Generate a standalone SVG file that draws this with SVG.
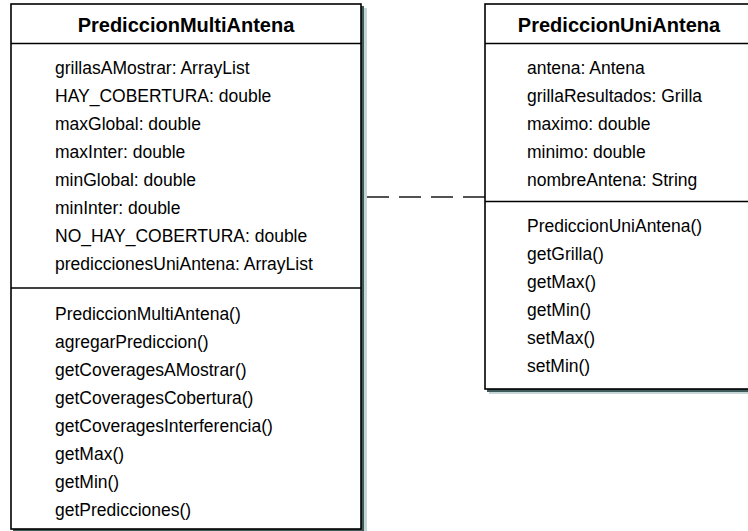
<svg xmlns="http://www.w3.org/2000/svg" width="748" height="531" viewBox="0 0 748 531">
  <style>
    .shadow-dark { fill: #3f5a5a; }
    .shadow-light { fill: #c6d6d6; }
    .box { fill: #ffffff; stroke: #000000; stroke-width: 1.6; }
    .sep { stroke: #000000; stroke-width: 1.4; }
    .title { font-family: "Liberation Sans", Arial, sans-serif; font-weight: bold; font-size: 20px; text-anchor: middle; fill: #000; }
    .member { font-family: "Liberation Sans", Arial, sans-serif; font-size: 17.5px; fill: #000; }
    .dep { fill: none; stroke: #1a1a1a; stroke-width: 1.5; stroke-dasharray: 22 10; }
  </style>

  <rect width="748" height="531" fill="#ffffff"/>

  <!-- dependency connector -->
  <g id="connectors">
    <line class="dep" x1="367" y1="197" x2="485" y2="197"/>
  </g>

  <!-- class PrediccionMultiAntena -->
  <g id="PrediccionMultiAntena">
    <rect class="shadow-light" x="15" y="8" width="352" height="530"/>
    <rect class="shadow-dark" x="13" y="6" width="351" height="530"/>
    <rect class="box" x="11" y="4" width="350" height="525"/>
    <line class="sep" x1="11" y1="43.5" x2="361" y2="43.5"/>
    <line class="sep" x1="11" y1="288" x2="361" y2="288"/>
    <text class="title" x="186" y="31.5">PrediccionMultiAntena</text>
    <text class="member" x="55" y="74">grillasAMostrar: ArrayList</text>
    <text class="member" x="55" y="102">HAY_COBERTURA: double</text>
    <text class="member" x="55" y="130">maxGlobal: double</text>
    <text class="member" x="55" y="158">maxInter: double</text>
    <text class="member" x="55" y="186">minGlobal: double</text>
    <text class="member" x="55" y="214">minInter: double</text>
    <text class="member" x="55" y="242">NO_HAY_COBERTURA: double</text>
    <text class="member" x="55" y="270">prediccionesUniAntena: ArrayList</text>
    <text class="member" x="55" y="320">PrediccionMultiAntena()</text>
    <text class="member" x="55" y="348">agregarPrediccion()</text>
    <text class="member" x="55" y="376">getCoveragesAMostrar()</text>
    <text class="member" x="55" y="404">getCoveragesCobertura()</text>
    <text class="member" x="55" y="432">getCoveragesInterferencia()</text>
    <text class="member" x="55" y="460">getMax()</text>
    <text class="member" x="55" y="488">getMin()</text>
    <text class="member" x="55" y="516">getPredicciones()</text>
  </g>

  <!-- class PrediccionUniAntena -->
  <g id="PrediccionUniAntena">
    <rect class="shadow-light" x="489" y="8" width="270" height="386"/>
    <rect class="shadow-dark" x="487" y="6" width="270" height="386"/>
    <rect class="box" x="485" y="4" width="270" height="385"/>
    <line class="sep" x1="485" y1="43.5" x2="755" y2="43.5"/>
    <line class="sep" x1="485" y1="201.5" x2="755" y2="201.5"/>
    <text class="title" x="619" y="31.5">PrediccionUniAntena</text>
    <text class="member" x="527" y="74">antena: Antena</text>
    <text class="member" x="527" y="102">grillaResultados: Grilla</text>
    <text class="member" x="527" y="130">maximo: double</text>
    <text class="member" x="527" y="158">minimo: double</text>
    <text class="member" x="527" y="186">nombreAntena: String</text>
    <text class="member" x="527" y="232">PrediccionUniAntena()</text>
    <text class="member" x="527" y="260">getGrilla()</text>
    <text class="member" x="527" y="288">getMax()</text>
    <text class="member" x="527" y="316">getMin()</text>
    <text class="member" x="527" y="344">setMax()</text>
    <text class="member" x="527" y="372">setMin()</text>
  </g>
</svg>
